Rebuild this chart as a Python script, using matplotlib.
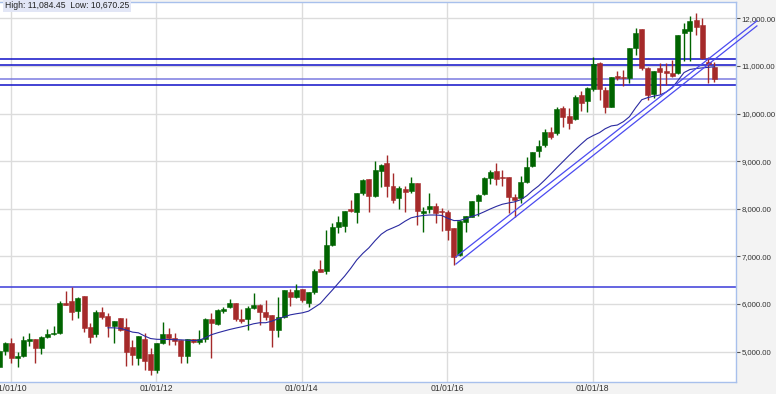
import matplotlib
matplotlib.use("Agg")
import matplotlib.pyplot as plt
import matplotlib.dates as mdates
import matplotlib.ticker as mticker
import pandas as pd
import numpy as np

# ---------------- data (monthly candles, Nov 2009 - Sep 2019) ----------------
first_month = "2009-11-01"
opens = [4680, 5019, 5175, 4872, 4908, 5229, 5258, 5070, 5301, 5364,
         5385, 6015, 6069, 5853, 6168, 5523, 5370, 5832, 5754, 5544,
         5706, 5517, 5103, 4860, 5259, 4950, 4614, 5181, 5370, 5280,
         5244, 4908, 5259, 5208, 5259, 5679, 5580, 5859, 5931, 6027,
         5679, 5679, 5910, 5979, 5826, 5769, 5454, 5721, 6258, 6153,
         6309, 6027, 6258, 6735, 6699, 7239, 7611, 7638, 7989, 7938,
         8337, 8619, 8268, 8799, 8955, 8484, 8220, 8409, 8379, 8535,
         7905, 7989, 8058, 7959, 7938, 7590, 7029, 7728, 7821, 8169,
         8310, 8640, 8793, 8673, 8661, 8241, 8220, 8568, 8898, 9219,
         9339, 9618, 9597, 10110, 9948, 9885, 10389, 10269, 10509, 11055,
         10494, 10143, 10788, 10761, 10740, 11370, 11769, 10950, 10410, 10950,
         10899, 10857, 10845, 11685, 11739, 11964, 11859, 11082, 10971]
highs = [5040, 5208, 5292, 4998, 5328, 5385, 5265, 5328, 5469, 5538,
         6063, 6273, 6363, 6153, 6175, 5595, 5874, 5931, 5805, 5650,
         5712, 5706, 5244, 5328, 5391, 5076, 5187, 5628, 5496, 5385,
         5250, 5259, 5265, 5454, 5700, 5811, 5889, 5931, 6105, 6030,
         5889, 5958, 6225, 5994, 6084, 5775, 6153, 6294, 6309, 6420,
         6315, 6258, 6729, 6924, 7554, 7701, 7848, 7953, 8184, 8337,
         8619, 8625, 9009, 8940, 9129, 8751, 8478, 8478, 8661, 8540,
         8043, 8337, 8127, 8010, 7974, 7595, 7764, 7848, 8169, 8310,
         8661, 8814, 8955, 8814, 8665, 8310, 8688, 9081, 9198, 9444,
         9669, 9711, 10131, 10158, 10110, 10389, 10479, 10551, 11193, 11088,
         10563, 10773, 10899, 10914, 11370, 11790, 11775, 10983, 10893, 11067,
         11067, 11124, 11649, 11895, 12048, 12117, 12000, 11193, 11084]
lows = [4670, 4929, 4755, 4671, 4893, 5124, 4767, 4950, 5280, 5349,
        5370, 5979, 5664, 5712, 5418, 5175, 5313, 5679, 5313, 5175,
        5439, 4698, 4719, 4719, 4614, 4509, 4551, 5170, 5139, 5139,
        4761, 4755, 5175, 5160, 5208, 4866, 5559, 5805, 5910, 5649,
        5607, 5454, 5889, 5559, 5664, 5091, 5301, 5700, 5958, 6126,
        6048, 5931, 6210, 6678, 6630, 7218, 7485, 7518, 7938, 7707,
        8289, 7938, 8253, 8463, 8253, 8127, 7989, 7938, 8325, 7659,
        7518, 7917, 7707, 7539, 7344, 6819, 7008, 7518, 7821, 7848,
        8289, 8520, 8499, 8478, 7917, 7833, 8127, 8547, 8883, 9081,
        9291, 9459, 9549, 9723, 9669, 9864, 10059, 10038, 10479, 10284,
        10017, 10131, 10704, 10578, 10635, 11229, 10914, 10284, 10320, 10410,
        10599, 10761, 10830, 11109, 11109, 11649, 11139, 10647, 10670]
closes = [5020, 5187, 4860, 4908, 5238, 5265, 5070, 5301, 5364, 5391,
          6015, 5985, 5838, 6120, 5490, 5313, 5832, 5733, 5544, 5643,
          5454, 4998, 4929, 5328, 4809, 4614, 5187, 5380, 5280, 5229,
          4908, 5259, 5208, 5259, 5679, 5607, 5874, 5889, 6027, 5679,
          5649, 5910, 5979, 5826, 5733, 5454, 5721, 6294, 6153, 6294,
          6084, 6258, 6699, 6678, 7239, 7611, 7728, 7953, 7953, 8337,
          8604, 8268, 8814, 8919, 8484, 8184, 8430, 8358, 8535, 7959,
          7953, 8058, 7917, 7932, 7554, 6981, 7749, 7848, 8169, 8289,
          8640, 8778, 8619, 8640, 8241, 8184, 8568, 8883, 9186, 9318,
          9618, 9513, 10089, 9921, 9795, 10341, 10227, 10530, 11040, 10509,
          10131, 10761, 10740, 10740, 11370, 11697, 10950, 10389, 10893, 10878,
          10845, 10788, 11649, 11769, 11949, 11811, 11160, 11040, 10719]

# moving-average line (monthly, May 2011 - Sep 2019)
ma_first_month = "2011-05-01"
ma_values = [5500, 5500, 5490, 5454, 5410, 5395, 5328, 5275, 5259, 5257,
             5255, 5250, 5248, 5240, 5232, 5240, 5290, 5355, 5395, 5430,
             5465, 5495, 5520, 5550, 5585, 5607, 5607, 5640, 5690, 5730,
             5772, 5795, 5815, 5850, 5925, 6010, 6153, 6295, 6440, 6585,
             6750, 6925, 7065, 7180, 7330, 7465, 7545, 7600, 7655, 7740,
             7810, 7840, 7860, 7869, 7869, 7860, 7800, 7752, 7755, 7790,
             7840, 7880, 7935, 7995, 8050, 8095, 8122, 8145, 8190, 8275,
             8380, 8480, 8600, 8730, 8860, 8990, 9120, 9240, 9360, 9470,
             9540, 9600, 9680, 9740, 9758, 9830, 9933, 10120, 10290, 10335,
             10365, 10389, 10450, 10540, 10690, 10860, 10925, 10945, 10958, 10970,
             10983]

# trend channel (two parallel lines)
trend_dates = ["2016-02-14", "2020-04-04"]
trend_upper = [6990, 11945]
trend_lower = [6840, 11840]

# horizontal levels
levels_dark = [11139, 11013, 10589]
level_light = 10719
level_low = 6358

y_ticks = [5000, 6000, 7000, 8000, 9000, 10000, 11000, 12000]
x_tick_dates = ["2010-01-01", "2012-01-01", "2014-01-01", "2016-01-01", "2018-01-01"]
header_text = "High: 11,084.45  Low: 10,670.25"

# ---------------- drawing ----------------
W, H = 776, 394
fig = plt.figure(figsize=(W / 100, H / 100), dpi=100)
fig.patch.set_facecolor("#f3f3f3")
ax = fig.add_axes([0, (H - 382.3) / H, 736 / W, (382.3 - 2) / H])
ax.set_facecolor("white")

dates = pd.date_range(first_month, periods=len(opens), freq="MS") + pd.Timedelta(days=3)
o = np.array(opens, float); h = np.array(highs, float)
l = np.array(lows, float); c = np.array(closes, float)
up = c >= o
green = "#006400"
red = "#a52a2a"
cols = np.where(up, green, red)

xd = mdates.date2num(dates)
ax.vlines(xd, l, h, colors=cols, linewidth=1.0, zorder=3)
body_lo = np.minimum(o, c)
body_h = np.maximum(np.abs(c - o), 12)
ax.bar(xd, body_h, bottom=body_lo, width=25, color=cols, edgecolor=cols,
       linewidth=0.4, zorder=4)

# moving average
ma_dates = pd.date_range(ma_first_month, periods=len(ma_values), freq="MS") + pd.Timedelta(days=3)
ax.plot(ma_dates, ma_values, color="#2a2aa0", linewidth=0.8, zorder=5)

# horizontal levels
for v in levels_dark:
    ax.axhline(v, color="#1010c8", linewidth=1.1, zorder=2)
ax.axhline(level_light, color="#7a7ae0", linewidth=1.1, zorder=2)
ax.axhline(level_low, color="#3a3ad8", linewidth=1.1, zorder=2)

# trend channel (extends beyond the plot frame)
td = pd.to_datetime(trend_dates)
ax.plot(td, trend_upper, color="#4b4bf0", linewidth=0.9, zorder=6, clip_on=False)
ax.plot(td, trend_lower, color="#4b4bf0", linewidth=0.9, zorder=6, clip_on=False)

# axes limits
ax.set_xlim(mdates.date2num(pd.Timestamp("2009-11-08")), mdates.date2num(pd.Timestamp("2019-12-21")))
ax.set_ylim(4356, 12342)

# grid
ax.set_yticks(y_ticks)
ax.set_xticks(mdates.date2num(pd.to_datetime(x_tick_dates)))
ax.grid(True, color="#dcdcdc", linewidth=1.0, zorder=0)
ax.set_axisbelow(True)

ax.yaxis.tick_right()
ax.yaxis.set_major_formatter(mticker.FuncFormatter(lambda v, p: f"{v:,.2f}"))
ax.xaxis.set_major_formatter(mdates.DateFormatter("%d/%m/%y"))
ax.tick_params(axis="y", direction="out", length=3, width=0.8, color="#555555",
               labelsize=5.6, labelcolor="#333333", pad=0.8)
ax.tick_params(axis="x", length=0, labelsize=6.2, labelcolor="#333333", pad=1.5)
for lab in ax.get_xticklabels() + ax.get_yticklabels():
    lab.set_fontfamily("Liberation Sans")

for side in ["top", "right", "bottom"]:
    ax.spines[side].set_color("#a8c0ec")
    ax.spines[side].set_linewidth(1.0)
ax.spines["left"].set_visible(False)

# header box
fig.text(5 / W, 1 - 5.5 / H, header_text, fontsize=6.2, family="Liberation Sans",
         color="#222222", va="center", ha="left",
         bbox=dict(boxstyle="square,pad=0.25", facecolor="#e2e6f6", edgecolor="none"))

fig.savefig("out.png", dpi=100, facecolor=fig.get_facecolor())
